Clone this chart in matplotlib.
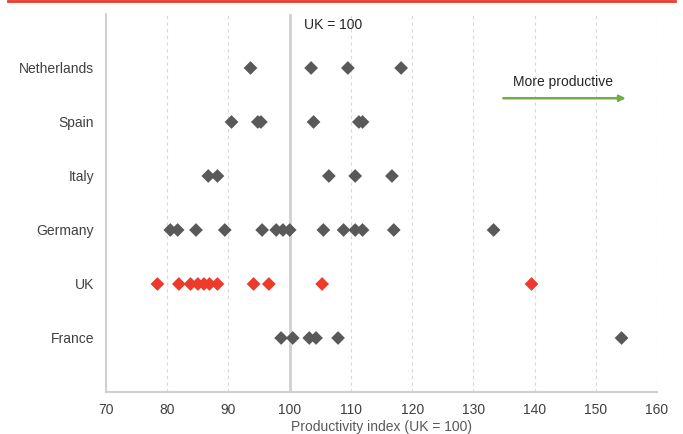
import matplotlib
matplotlib.use('Agg')
from matplotlib import pyplot as plt
from matplotlib.lines import Line2D

plt.rcParams['font.family'] = ['Liberation Sans', 'DejaVu Sans']

countries = ['France', 'UK', 'Germany', 'Italy', 'Spain', 'Netherlands']

france = [98.6, 100.5, 103.2, 104.3, 107.9, 154.2]
uk = [78.4, 81.9, 83.8, 85.0, 86.0, 86.9, 88.2, 94.1, 96.6, 105.3, 139.5]
germany = [80.5, 81.7, 84.7, 89.4, 95.5, 97.8, 98.9, 100.0, 105.5, 108.8,
           110.7, 111.9, 117.0, 133.3]
italy = [86.7, 88.2, 106.4, 110.7, 116.7]
spain = [90.5, 94.8, 95.3, 103.9, 111.3, 111.9]
netherlands = [93.6, 103.5, 109.5, 118.2]

values = [france, uk, germany, italy, spain, netherlands]

grey = '#595959'
red = '#ee3a2b'
green = '#70ad47'

fig = plt.figure(figsize=(6.83, 4.34), dpi=100)
ax = fig.add_axes([0.1552, 0.0968, 0.8068, 0.871])

for x in range(80, 161, 10):
    if x != 100:
        ax.axvline(x, color='#d9d9d9', lw=0.8, ls=(0, (3, 3)), zorder=0)
ax.axvline(100, color='#d0d0d0', lw=2, zorder=1)

for i, (name, vals) in enumerate(zip(countries, values)):
    c = red if name == 'UK' else grey
    ax.scatter(vals, [i + 1] * len(vals), marker='D', s=49, color=c,
               edgecolors='none', zorder=3)

ax.set_xlim(70, 160)
ax.set_ylim(0, 7)
ax.set_xticks(range(70, 161, 10))
ax.set_yticks(range(1, 7))
ax.set_yticklabels(countries)
ax.tick_params(length=0, labelsize=10, colors='#404040', pad=8)
ax.tick_params(axis='y', pad=8.5)
for s in ['top', 'right']:
    ax.spines[s].set_visible(False)
for s in ['left', 'bottom']:
    ax.spines[s].set_color('#d0d0d0')
    ax.spines[s].set_linewidth(1.5)

ax.set_xlabel('Productivity index (UK = 100)', fontsize=10, color='#595959',
              labelpad=2)

ax.text(102.3, 6.8, 'UK = 100', fontsize=10, color='#262626', va='center')
ax.text(144.6, 5.74, 'More productive', fontsize=10, color='#262626',
        ha='center', va='center')
ax.annotate('', xy=(154.9, 5.44), xytext=(134.9, 5.44),
            arrowprops=dict(arrowstyle='-|>', color=green, lw=1.8,
                            mutation_scale=9, shrinkA=0, shrinkB=0))

fig.add_artist(Line2D([8 / 683, 675 / 683], [0.997, 0.997], color='#ee3a2b',
                      lw=2, transform=fig.transFigure))

fig.savefig('out.png', dpi=100)
